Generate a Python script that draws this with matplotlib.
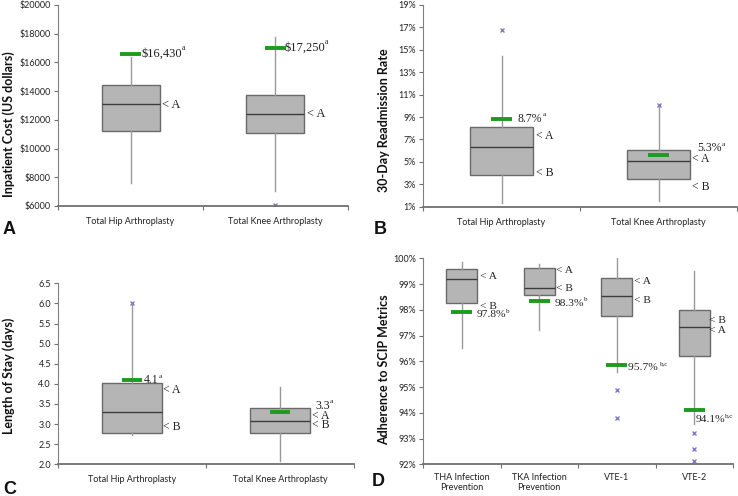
import matplotlib
matplotlib.use("Agg")
import matplotlib.pyplot as plt
from matplotlib.ticker import FuncFormatter, FixedLocator, NullFormatter

# ---------------- data ----------------
# Panel A: inpatient cost
a_cats = ["Total Hip Arthroplasty", "Total Knee Arthroplasty"]
a_whislo = [7580, 7070]
a_q1 = [11210, 11070]
a_med = [13120, 12420]
a_q3 = [14400, 13745]
a_whishi = [16370, 17770]
a_fliers = [[], [6050]]
a_bench = [16605, 17023]
a_yticks = [6000, 8000, 10000, 12000, 14000, 16000, 18000, 20000]

# Panel B: 30-day readmission rate (%)
b_cats = ["Total Hip Arthroplasty", "Total Knee Arthroplasty"]
b_whislo = [1.33, 1.5]
b_q1 = [3.87, 3.45]
b_med = [6.37, 5.09]
b_q3 = [8.07, 6.1]
b_whishi = [14.43, 10.0]
b_fliers = [[16.76], [10.1]]
b_bench = [8.85, 5.57]
b_yticks = [1, 3, 5, 7, 9, 11, 13, 15, 17, 19]

# Panel C: length of stay (days)
c_cats = ["Total Hip Arthroplasty", "Total Knee Arthroplasty"]
c_whislo = [2.73, 2.09]
c_q1 = [2.78, 2.79]
c_med = [3.29, 3.08]
c_q3 = [4.03, 3.41]
c_whishi = [5.96, 3.91]
c_fliers = [[6.0], []]
c_bench = [4.10, 3.29]
c_yticks = [2.0, 2.5, 3.0, 3.5, 4.0, 4.5, 5.0, 5.5, 6.0, 6.5]

# Panel D: adherence to SCIP metrics (%)
d_cats = ["THA Infection\nPrevention", "TKA Infection\nPrevention", "VTE-1", "VTE-2"]
d_whislo = [96.5, 97.2, 95.58, 93.58]
d_q1 = [98.27, 98.58, 97.75, 96.22]
d_med = [99.2, 98.83, 98.54, 97.35]
d_q3 = [99.58, 99.62, 99.23, 98.0]
d_whishi = [99.87, 99.77, 100.0, 99.5]
d_fliers = [[], [], [94.87, 93.8], [93.2, 92.58, 92.12]]
d_bench = [97.9, 98.33, 95.86, 94.09]
d_yticks = [92, 93, 94, 95, 96, 97, 98, 99, 100]

# annotations: (text, superscript, x, y)
a_notes = [(r"\$16,430", "a", 1.075, 16605), ("< A", "", 1.215, 13050),
           (r"\$17,250", "a", 2.06, 17023), ("< A", "", 2.215, 12408)]
b_notes = [("8.7%", "a", 1.105, 8.85), ("< A", "", 1.22, 7.30), ("< B", "", 1.22, 4.03),
           ("5.3%", "a", 2.245, 6.23), ("< A", "", 2.215, 5.25), ("< B", "", 2.215, 2.78)]
c_notes = [("4.1", "a", 1.08, 4.09), ("< A", "", 1.21, 3.85), ("< B", "", 1.21, 2.93),
           ("3.3", "a", 2.24, 3.46), ("< A", "", 2.216, 3.19), ("< B", "", 2.216, 2.965)]
d_notes = [("< A", "", 1.235, 99.29), ("< B", "", 1.235, 98.14), ("97.8%", "b", 1.19, 97.80),
           ("< A", "", 2.216, 99.51), ("< B", "", 2.216, 98.81), ("98.3%", "b", 2.20, 98.26),
           ("< A", "", 3.22, 99.09), ("< B", "", 3.22, 98.38), ("95.7% ", "b,c", 3.14, 95.75),
           ("< B", "", 4.19, 97.60), ("< A", "", 4.19, 97.18), ("94.1%", "b,c", 4.02, 93.74)]

W, H = 738, 496
fig = plt.figure(figsize=(W / 100, H / 100), dpi=100)


def make_ax(left, right, top, bottom):
    return fig.add_axes([left / W, 1 - bottom / H, (right - left) / W, (bottom - top) / H])


TICK_FONT = 'Lato'
SERIF = 'Liberation Serif'


def draw_panel(ax, cats, wlo, q1, med, q3, whi, fliers, bench, green_half, notes, yticks,
               yfmt, note_size=8.5):
    n = len(cats)
    stats = []
    for i in range(n):
        stats.append(dict(med=med[i], q1=q1[i], q3=q3[i], whislo=wlo[i], whishi=whi[i],
                          fliers=fliers[i]))
    pos = list(range(1, n + 1))
    ax.bxp(stats, positions=pos, widths=0.4, patch_artist=True, showcaps=False,
           boxprops=dict(facecolor='#b5b5b5', edgecolor='#6a6a6a', linewidth=1.0),
           medianprops=dict(color='#3c3c3c', linewidth=1.0),
           whiskerprops=dict(color='#9a9a9a', linewidth=1.0),
           flierprops=dict(marker='x', markersize=2.4, markeredgecolor='#8080c8',
                           markeredgewidth=1.0, linestyle='none'))
    for i in range(n):
        ax.plot([pos[i] - green_half, pos[i] + green_half], [bench[i], bench[i]],
                color='#1e9a1e', linewidth=2.8, solid_capstyle='butt', zorder=5)
    for txt, sup, x, y in notes:
        t = ax.text(x, y, txt, family=SERIF, fontsize=note_size, ha='left', va='center',
                    color='#222222', zorder=6)
        if sup:
            ax.annotate(sup, xy=(1.0, 0.62), xycoords=t, family=SERIF,
                        fontsize=note_size * 0.62, ha='left', va='bottom',
                        color='#222222', zorder=6)
    ax.set_xlim(0.5, n + 0.5)
    ax.set_ylim(yticks[0], yticks[-1])
    ax.yaxis.set_major_locator(FixedLocator(yticks))
    ax.yaxis.set_major_formatter(FuncFormatter(yfmt))
    ax.xaxis.set_major_locator(FixedLocator([i + 0.5 for i in range(n + 1)]))
    ax.xaxis.set_major_formatter(NullFormatter())
    ax.xaxis.set_minor_locator(FixedLocator(pos))
    ax.set_xticklabels(cats, minor=True)
    ax.tick_params(axis='x', which='minor', length=0, pad=8)
    ax.tick_params(axis='x', which='major', length=3, color='#707070', direction='out')
    ax.tick_params(axis='y', length=3, color='#707070', direction='out', pad=2)
    for lab in ax.get_xticklabels(minor=True) + ax.get_yticklabels():
        lab.set_fontfamily(TICK_FONT)
        lab.set_fontsize(6.5)
        lab.set_color('#222222')
    for s in ['top', 'right']:
        ax.spines[s].set_visible(False)
    ax.spines['left'].set_color('#808080')
    ax.spines['bottom'].set_color('#707070')
    ax.spines['bottom'].set_linewidth(1.3)
    ax.patch.set_alpha(0)


axA = make_ax(58, 348, 5, 206)
draw_panel(axA, a_cats, a_whislo, a_q1, a_med, a_q3, a_whishi, a_fliers, a_bench, 0.069,
           a_notes, a_yticks, lambda v, p: "$%d" % v, note_size=9)

axB = make_ax(423, 737, 5, 206.7)
draw_panel(axB, b_cats, b_whislo, b_q1, b_med, b_q3, b_whishi, b_fliers, b_bench, 0.064,
           b_notes, b_yticks, lambda v, p: "%d%%" % round(v), note_size=8.5)

axC = make_ax(58, 354, 283.3, 464.3)
draw_panel(axC, c_cats, c_whislo, c_q1, c_med, c_q3, c_whishi, c_fliers, c_bench, 0.068,
           c_notes, c_yticks, lambda v, p: "%.1f" % v, note_size=8.5)

axD = make_ax(423, 733, 258.3, 464.3)
draw_panel(axD, d_cats, d_whislo, d_q1, d_med, d_q3, d_whishi, d_fliers, d_bench, 0.135,
           d_notes, d_yticks, lambda v, p: "%d%%" % round(v), note_size=8.2)
axD.tick_params(axis='x', which='minor', pad=6)

# y-axis labels
ylab_kw = dict(family=TICK_FONT, fontweight='bold', fontsize=9, rotation=90,
               ha='center', va='center', color='#111111')
fig.text(9 / W, 1 - 124 / H, "Inpatient Cost (US dollars)", **ylab_kw)
fig.text(384 / W, 1 - 120 / H, "30-Day Readmission Rate", **ylab_kw)
fig.text(9 / W, 1 - 376 / H, "Length of Stay (days)", **ylab_kw)
fig.text(384 / W, 1 - 370 / H, "Adherence to SCIP Metrics", **ylab_kw)

# panel letters
let_kw = dict(family='Liberation Sans', fontweight='bold', fontsize=13,
              ha='left', va='center', color='#111111')
fig.text(3 / W, 1 - 229 / H, "A", **let_kw)
fig.text(374 / W, 1 - 229 / H, "B", **let_kw)
fig.text(3 / W, 1 - 489 / H, "C", **let_kw)
fig.text(372 / W, 1 - 482 / H, "D", **let_kw)

fig.savefig("out.png", dpi=100)
